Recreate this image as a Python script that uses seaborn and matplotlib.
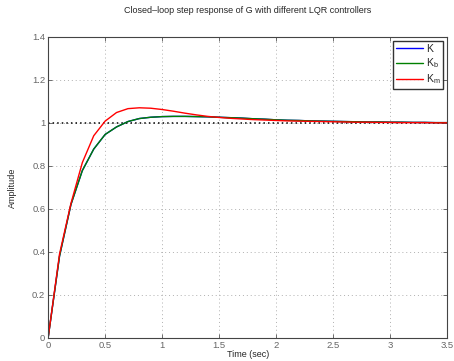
import numpy as np
import pandas as pd
import matplotlib
matplotlib.use("Agg")
import matplotlib.pyplot as plt
import seaborn as sns

# sample times (sec)
t = [round(0.1 * i, 1) for i in range(36)]

# step responses
y_K = [0.0, 0.38, 0.62, 0.778, 0.878, 0.946, 0.981, 1.006, 1.020, 1.026,
       1.029, 1.030, 1.030, 1.029, 1.028, 1.026, 1.024, 1.022, 1.019, 1.017,
       1.014, 1.012, 1.011, 1.009, 1.008, 1.007, 1.006, 1.005, 1.004, 1.004,
       1.003, 1.003, 1.002, 1.002, 1.001, 1.001]
y_Kb = [0.0, 0.38, 0.62, 0.778, 0.878, 0.946, 0.981, 1.006, 1.020, 1.026,
        1.029, 1.030, 1.030, 1.029, 1.028, 1.026, 1.024, 1.022, 1.019, 1.017,
        1.014, 1.012, 1.011, 1.009, 1.008, 1.007, 1.006, 1.005, 1.004, 1.004,
        1.003, 1.003, 1.002, 1.002, 1.001, 1.001]
y_Km = [0.0, 0.39, 0.625, 0.815, 0.94, 1.008, 1.048, 1.066, 1.070, 1.068,
        1.062, 1.054, 1.045, 1.037, 1.030, 1.025, 1.021, 1.018, 1.015, 1.013,
        1.011, 1.009, 1.008, 1.007, 1.006, 1.005, 1.004, 1.003, 1.003, 1.002,
        1.002, 1.001, 1.001, 1.001, 1.000, 1.000]

labels = ["K", "K$_b$", "K$_m$"]

df = pd.DataFrame({
    "t": t * 3,
    "y": y_K + y_Kb + y_Km,
    "ctrl": [labels[0]] * len(t) + [labels[1]] * len(t) + [labels[2]] * len(t),
})

sns.set_style("white")
plt.rcParams["font.family"] = ["Liberation Sans", "DejaVu Sans"]
plt.rcParams["mathtext.fontset"] = "custom"
plt.rcParams["mathtext.rm"] = "Liberation Sans"
plt.rcParams["mathtext.it"] = "Liberation Sans"

fig = plt.figure(figsize=(4.54, 3.61), dpi=100)
ax = fig.add_axes([0.106, 0.064, 0.879, 0.834])

sns.lineplot(data=df, x="t", y="y", hue="ctrl", ax=ax,
             palette={labels[0]: (0, 0, 1), labels[1]: (0, 0.5, 0), labels[2]: (1, 0, 0)},
             linewidth=1.0, sort=False, estimator=None)

ax.axhline(1.0, color="black", linestyle=(0, (1, 2)), linewidth=1.1, zorder=1)

ax.set_xlim(0, 3.5)
ax.set_ylim(0, 1.4)
ax.set_xticks(np.arange(0, 3.51, 0.5))
ax.set_xticklabels(["0", "0.5", "1", "1.5", "2", "2.5", "3", "3.5"])
ax.set_yticks(np.arange(0, 1.41, 0.2))
ax.set_yticklabels(["0", "0.2", "0.4", "0.6", "0.8", "1", "1.2", "1.4"])
ax.grid(True, color="#b0b0b0", linestyle=(0, (1, 3)), linewidth=0.7)
ax.tick_params(direction="in", length=3, width=0.6, colors="#555555",
               labelsize=6.8, labelcolor="#666666", top=True, right=True,
               bottom=True, left=True, pad=2)
for s in ax.spines.values():
    s.set_color("#444444")
    s.set_linewidth(0.8)

ax.set_xlabel("Time (sec)", fontsize=6.5, labelpad=0)
ax.set_ylabel("Amplitude", fontsize=6.5, labelpad=11)
ax.set_title("Closed\u2013loop step response of G with different LQR controllers",
             fontsize=6.5, pad=17)

leg = ax.legend(loc="upper right", fontsize=7.5, frameon=True, fancybox=False,
                handlelength=2.6, borderpad=0.25, labelspacing=0.25,
                handletextpad=0.3, borderaxespad=0.4)
leg.get_frame().set_edgecolor("black")
leg.get_frame().set_linewidth(1.0)
leg.set_title(None)

fig.savefig("out.png", dpi=100)
